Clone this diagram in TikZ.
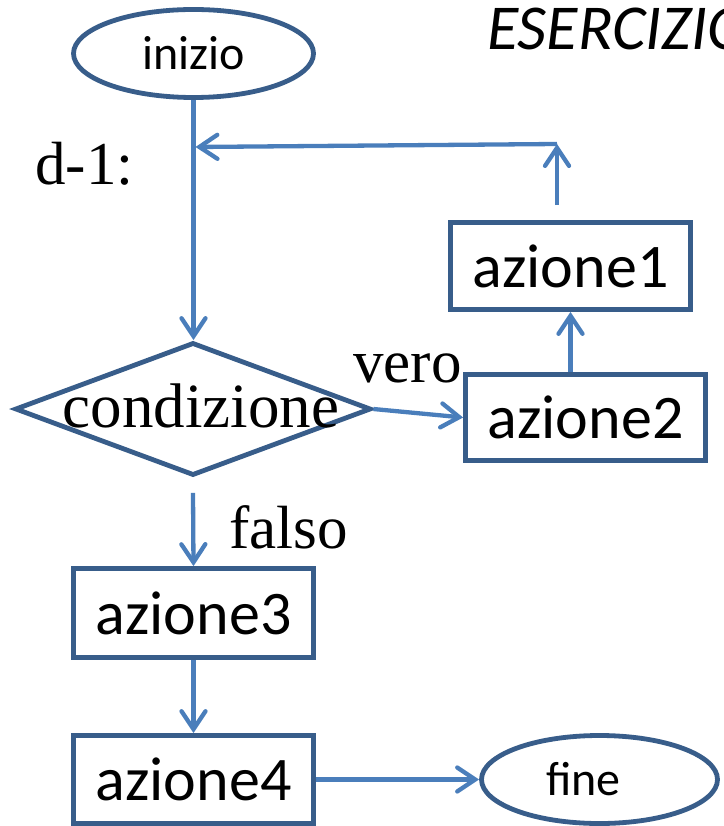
\documentclass[tikz,border=0pt]{standalone}
\usepackage{fontspec}
\setmainfont{Liberation Serif}
\newfontfamily\calibri{Carlito}
\usetikzlibrary{shapes.geometric,arrows.meta}
\definecolor{boxblue}{RGB}{56,93,138}
\definecolor{arrowblue}{RGB}{74,126,187}
\begin{document}
\begin{tikzpicture}[x=1pt,y=-1pt,
  box/.style={draw=boxblue, line width=4.8pt, rectangle, minimum width=240pt, minimum height=87pt, inner sep=0pt, font=\calibri\fontsize{62}{70}\selectfont},
  term/.style={draw=boxblue, line width=4.8pt, ellipse, inner sep=0pt, font=\calibri\fontsize{48}{56}\selectfont},
  decision/.style={draw=boxblue, line width=4.8pt, diamond, inner sep=0pt, minimum width=356pt, minimum height=133pt},
  lbl/.style={font=\fontsize{61}{70}\selectfont, inner sep=0pt},
  arr/.style={draw=arrowblue, line width=4.3pt, -{Straight Barb[length=18pt,width=24pt,line cap=round]}}
]
\useasboundingbox (0,0) rectangle (723,826);
\node[term, minimum width=240pt, minimum height=88pt] (inizio) at (193.5,53.5) {inizio};
\node[anchor=base west, font=\calibri\itshape\fontsize{64}{70}\selectfont, inner sep=0pt] (title) at (487,50) {ESERCIZIO};
\node[lbl, anchor=base west] (d1) at (35,185) {d-1:};
\node[box] (az1) at (570.5,266) {azione1};
\node[box, minimum height=86pt] (az2) at (585.5,417.5) {azione2};
\node[decision] (cond) at (193,409) {};
\node[lbl, font=\fontsize{63}{70}\selectfont] (condtxt) at (201,406) {condizione};
\node[lbl, anchor=base west] (vero) at (353,382) {vero};
\node[lbl, anchor=base west] (falso) at (229,548) {falso};
\node[box, minimum height=89pt] (az3) at (193.5,613) {azione3};
\node[box, minimum height=88pt] (az4) at (193.5,779.5) {azione4};
\node[term, minimum width=236pt, minimum height=88pt] (fine) at (599.5,779.5) {fine\hspace*{32pt}};
\coordinate (loopR) at (557,144);
\coordinate (loopL) at (195.5,147);
\draw[arr] (inizio.south) -- (inizio.south |- cond.north);
\draw[arr] ([xshift=-13.5pt,yshift=15pt]az1.north) -- (loopR);
\draw[arr] (loopR) -- (loopL);
\draw[arr] (az1.south |- az2.north) -- (az1.south);
\draw[arr] (cond.east) -- (az2.west);
\draw[arr] ([yshift=-15pt]cond.south) -- (az3.north);
\draw[arr] (az3.south) -- (az4.north);
\draw[arr] (az4.east) -- (fine.west);
\end{tikzpicture}
\end{document}
